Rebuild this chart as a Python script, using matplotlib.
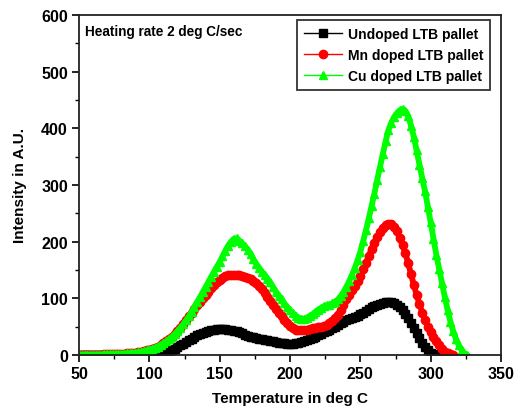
import matplotlib
matplotlib.use("Agg")
import matplotlib.pyplot as plt
import numpy as np
from matplotlib.ticker import MultipleLocator
from matplotlib.lines import Line2D

plt.rcParams['font.family'] = ['Liberation Sans', 'DejaVu Sans']
plt.rcParams['font.weight'] = 'bold'

# Temperature grids (deg C)
temp_cu = np.arange(50, 327, 2)
temp_mn = np.arange(50, 317, 2)
temp_un = np.arange(50, 307, 2)

cu_doped = [
    0.5, 0.5, 0.5, 0.5, 0.5, 0.5, 0.6, 0.7, 0.8, 0.9, 1.0,
    1.1, 1.3, 1.5, 1.8, 2.0, 2.3, 2.7, 3.0, 3.5, 4.0,
    4.8, 5.6, 6.6, 8.0, 9.5, 11, 13, 15, 18, 21,
    24, 28, 32, 37, 42, 48, 54, 61, 68, 76,
    85, 94, 102, 111, 120, 129, 138, 147, 156, 164,
    174, 184, 193, 200, 205, 206, 202, 197, 192, 186,
    178, 169, 161, 154, 147, 141, 135, 128, 120, 112,
    105, 98, 91, 85, 79, 74, 69, 66, 64, 64,
    66, 69, 72, 76, 80, 83, 86, 88, 89, 91,
    94, 98, 104, 111, 120, 130, 141, 153, 167, 182,
    201, 220, 241, 263, 285, 309, 332, 355, 377, 397,
    410, 420, 427, 432, 434, 431, 422, 405, 385, 361,
    336, 312, 289, 262, 234, 205, 177, 152, 127, 103,
    80, 59, 42, 28, 17, 9, 3, 0,
]

mn_doped = [
    0.5, 0.5, 0.5, 0.5, 0.5, 0.5, 0.6, 0.7, 0.8, 0.9, 1.0,
    1.1, 1.3, 1.5, 1.8, 2.0, 2.3, 2.7, 3.0, 3.5, 4.0,
    4.8, 5.6, 6.6, 8.0, 9.5, 11, 13, 15, 18, 21,
    24, 28, 32, 37, 42, 48, 54, 61, 68,
    74, 81, 88, 94, 100, 106, 112, 118, 123, 128,
    132, 136, 139, 141, 142, 142, 142, 141, 140, 138,
    136, 134, 131, 127, 122, 116, 110, 103, 96, 89,
    82, 75, 68, 62, 56, 51, 47, 45, 44, 44,
    44, 45, 46, 47, 48, 49, 50, 51, 53, 56,
    60, 65, 71, 79, 88, 98, 106, 114, 122, 131,
    140, 152, 163, 175, 187, 198, 208, 217, 224, 229,
    232, 231, 226, 218, 206, 194, 180, 162, 143, 124,
    106, 90, 75, 62, 50, 40, 32, 24, 17, 11,
    6, 3, 1, 0,
]

undoped = [
    0, 0, 0, 0, 0, 0, 0, 0, 0, 0, 0, 0, 0, 0, 0, 0, 0, 0, 0, 0, 0, 0, 0, 0, 0, 0, 0,
    0, 0, 0.5, 2, 4, 6, 8, 11, 14, 17,
    20, 23, 26, 29, 32, 35, 37, 39, 41, 43,
    44, 45, 46, 46, 46, 46, 45, 44, 43, 42,
    40, 38, 36, 34, 32, 31, 30, 29, 28, 27,
    26, 25, 24, 23, 22, 21, 21, 20, 20, 20,
    21, 22, 23, 24, 26, 28, 30, 32, 35, 37,
    40, 42, 45, 47, 50, 53, 56, 58, 61, 63,
    65, 67, 69, 72, 75, 78, 81, 84, 87, 89,
    90, 92, 93, 94, 94, 92, 89, 85, 79, 73,
    65, 57, 48, 39, 30, 21, 14, 8, 4, 1,
    0.5, 0,
]

labels = ["Undoped LTB pallet", "Mn doped LTB pallet", "Cu doped LTB pallet"]
colors = ['black', '#ff0000', '#00ff00']
markers = ['s', 'o', '^']

fig = plt.figure(figsize=(5.22, 4.10), dpi=100)
ax = fig.add_axes([79/522, 1-356/410, 422/522, 340/410])

for x, y, c, m in zip([temp_un, temp_mn, temp_cu], [undoped, mn_doped, cu_doped], colors, markers):
    ax.plot(x, y, color=c, lw=4.2, solid_capstyle='round', solid_joinstyle='round')
    ax.plot(x, y, color=c, lw=0, marker=m, markersize=6 if m != 's' else 5.5)

ax.set_xlim(50, 350)
ax.set_ylim(0, 600)
ax.xaxis.set_major_locator(MultipleLocator(50))
ax.xaxis.set_minor_locator(MultipleLocator(25))
ax.yaxis.set_major_locator(MultipleLocator(100))
ax.yaxis.set_minor_locator(MultipleLocator(50))
ax.tick_params(which='major', direction='out', length=5, width=1.2, labelsize=11.5, pad=3)
ax.tick_params(which='minor', direction='out', length=3, width=1.0)
for lab in ax.get_xticklabels() + ax.get_yticklabels():
    lab.set_fontweight('bold')
for s in ax.spines.values():
    s.set_linewidth(1.3)
    s.set_color('#222222')

ax.set_xlabel("Temperature in deg C", fontsize=11, fontweight='bold', labelpad=7)
ax.set_ylabel("Intensity in A.U.", fontsize=11, fontweight='bold', labelpad=10)

ax.text(0.015, 0.954, "Heating rate 2 deg C/sec", transform=ax.transAxes,
        fontsize=9.8, fontweight='bold', va='center', ha='left')

handles = [Line2D([], [], color=c, marker=m, markersize=6, lw=1.0) for c, m in zip(colors, markers)]
leg = ax.legend(handles, labels, loc='upper right', bbox_to_anchor=(0.975, 0.985), fontsize=10,
                frameon=True, fancybox=False, edgecolor='black', handlelength=2.7,
                borderpad=0.5, labelspacing=0.5, handletextpad=0.45, borderaxespad=0.0)
leg.get_frame().set_linewidth(1.3)
for t in leg.get_texts():
    t.set_fontweight('bold')

fig.savefig("out.png", dpi=100)
